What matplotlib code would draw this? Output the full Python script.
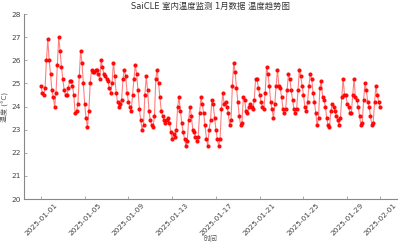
import matplotlib
matplotlib.use("Agg")
import matplotlib.pyplot as plt
import matplotlib.dates as mdates
import numpy as np
import pandas as pd

# DejaVu for latin/digits, CJK family picks up the Chinese glyphs
plt.rcParams['font.family'] = ['DejaVu Sans', 'Noto Sans CJK SC']

# 3-hourly readings, one row per day (00:00 ... 21:00), Jan 2025
day_values = [
    [24.9, 24.6, 24.5, 24.8, 26.0, 26.9, 26.0, 25.4],
    [24.7, 24.4, 24.0, 24.6, 25.8, 27.0, 26.4, 25.7],
    [25.2, 24.7, 24.5, 24.5, 24.8, 25.1, 25.1, 24.9],
    [24.5, 23.7, 23.8, 24.1, 25.3, 26.4, 25.9, 25.0],
    [24.1, 23.5, 23.1, 23.8, 25.0, 25.6, 25.5, 25.5],
    [25.6, 25.6, 25.4, 25.2, 26.0, 25.7, 25.4, 25.3],
    [25.2, 25.1, 24.8, 24.6, 25.0, 25.9, 25.3, 24.6],
    [24.2, 24.0, 24.1, 24.3, 25.2, 25.6, 25.3, 24.6],
    [24.2, 24.0, 23.8, 24.5, 25.2, 25.8, 25.4, 24.7],
    [23.9, 23.4, 23.0, 23.2, 24.5, 25.3, 24.7, 23.8],
    [23.4, 23.2, 23.1, 23.6, 25.2, 25.6, 25.0, 24.4],
    [23.8, 23.6, 23.4, 23.3, 23.4, 23.5, 23.3, 22.9],
    [22.6, 22.8, 22.7, 23.0, 24.0, 24.4, 23.8, 23.3],
    [22.9, 22.6, 22.3, 22.5, 23.4, 24.0, 23.6, 23.0],
    [22.9, 22.7, 22.5, 22.7, 23.7, 24.4, 24.1, 23.7],
    [23.2, 22.6, 22.3, 23.0, 23.4, 24.3, 24.1, 23.5],
    [23.0, 22.6, 22.3, 22.6, 23.9, 24.6, 24.1, 24.2],
    [24.0, 23.7, 23.2, 23.4, 24.9, 25.9, 25.5, 24.8],
    [24.2, 23.6, 23.2, 23.3, 24.4, 24.3, 23.8, 23.7],
    [24.0, 24.1, 24.0, 23.9, 24.3, 25.2, 25.2, 24.8],
    [24.5, 24.2, 24.0, 23.9, 24.6, 25.7, 25.4, 24.9],
    [24.2, 23.9, 23.5, 24.1, 24.9, 25.6, 24.9, 24.8],
    [24.4, 23.9, 23.7, 23.9, 24.7, 25.4, 25.2, 24.7],
    [24.3, 23.9, 23.7, 23.9, 24.7, 25.6, 25.3, 24.9],
    [24.5, 24.0, 23.8, 24.2, 24.9, 25.4, 25.2, 24.6],
    [24.2, 23.7, 23.2, 23.5, 24.8, 25.1, 24.4, 24.3],
    [24.0, 23.5, 23.2, 23.1, 23.8, 24.1, 24.0, 23.8],
    [23.6, 23.4, 23.2, 23.5, 24.4, 25.2, 24.5, 24.5],
    [24.1, 24.0, 23.7, 23.7, 24.5, 25.2, 24.4, 24.3],
    [24.0, 23.6, 23.2, 23.3, 24.3, 25.0, 24.7, 24.2],
    [24.0, 23.6, 23.2, 23.3, 24.2, 24.9, 24.5, 24.2],
]
last_value = 24.0  # 2025-02-01 00:00

temps = [v for day in day_values for v in day] + [last_value]
times = pd.date_range("2025-01-01 00:00", periods=len(temps), freq="3h")

title = "SaiCLE 室内温度监测 1月数据 温度趋势图"
ylabel = "温度 (°C)"
xlabel = "时间"
tick_days = [1, 5, 9, 13, 17, 21, 25, 29]

fig = plt.figure(figsize=(4.0, 2.46), dpi=100)
ax = fig.add_axes([0.06, 0.191, 0.9325, 0.752])

ax.plot(times, temps, color="red", linewidth=0.8, alpha=0.5)
ax.plot(times, temps, color="red", linestyle="none", marker="o",
        markersize=2.0, alpha=0.9)

ax.set_ylim(20, 28)
ax.set_yticks(np.arange(20, 29, 1))
ax.xaxis.set_major_locator(mdates.DayLocator(bymonthday=tick_days))
ax.xaxis.set_major_formatter(mdates.DateFormatter("%Y-%m-%d"))

for side in ["top", "right"]:
    ax.spines[side].set_visible(False)
for side in ["left", "bottom"]:
    ax.spines[side].set_color("#888888")
    ax.spines[side].set_linewidth(0.8)

ax.tick_params(axis="both", direction="in", length=2, width=0.5,
               color="#888888", labelsize=5.3, labelcolor="#444444", pad=2)
for lab in ax.get_xticklabels():
    lab.set_rotation(45)

ax.set_title(title, fontsize=6, color="#333333", pad=4)
ax.set_ylabel(ylabel, fontsize=5, color="#555555", labelpad=3)
ax.set_xlabel(xlabel, fontsize=5, color="#555555")
# label sits just under the rotated tick labels
ax.xaxis.set_label_coords(0.5, -0.195)

fig.savefig("out.png", dpi=100)
